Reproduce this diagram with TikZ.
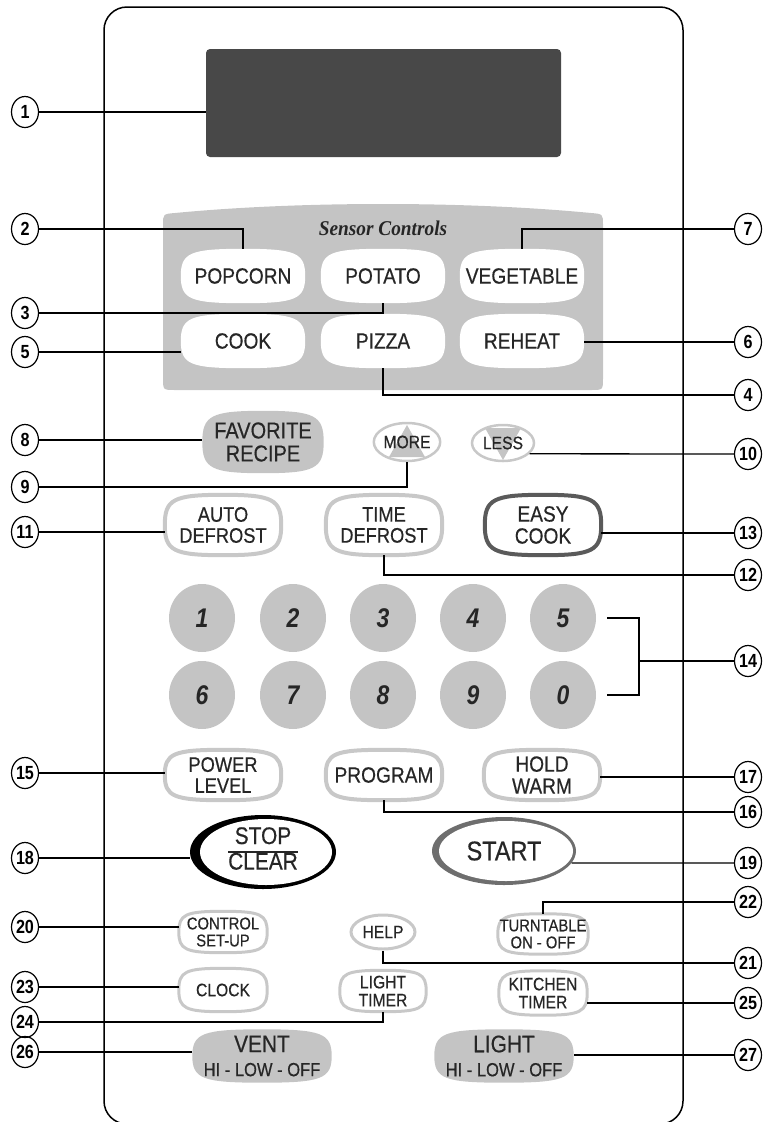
\documentclass[tikz,border=0pt]{standalone}
\usepackage{fontspec}
\newfontfamily\keyfont{Liberation Sans}[FakeStretch=0.87, FakeBold=0.5]
\newfontfamily\digitfont{Liberation Sans}[FakeStretch=0.85]
\newfontfamily\titlefont{Liberation Serif}[FakeStretch=0.92]
\usepackage{xcolor}
\definecolor{panelgray}{RGB}{196, 196, 196}
\definecolor{ringgray}{RGB}{200, 200, 200}
\definecolor{displaygray}{RGB}{72, 72, 72}
\definecolor{darkring}{RGB}{90, 90, 90}
\definecolor{startring}{RGB}{110, 110, 110}
\definecolor{keytext}{RGB}{38, 38, 38}
\usepackage{tikz}
\usetikzlibrary{calc, shapes.geometric}
\pgfdeclarelayer{back}
\pgfdeclarelayer{mid}
\pgfsetlayers{back,mid,main}

% cushion outline round a key node
\newcommand{\pillow}[2][]{%
  \path[#1] (#2.west)
    .. controls ($(#2.west)!0.85!(#2.north west)$) and ($(#2.north)!0.85!(#2.north west)$) .. (#2.north)
    .. controls ($(#2.north)!0.85!(#2.north east)$) and ($(#2.east)!0.85!(#2.north east)$) .. (#2.east)
    .. controls ($(#2.east)!0.85!(#2.south east)$) and ($(#2.south)!0.85!(#2.south east)$) .. (#2.south)
    .. controls ($(#2.south)!0.85!(#2.south west)$) and ($(#2.west)!0.85!(#2.south west)$) .. (#2.west) -- cycle;}

\begin{document}
\begin{tikzpicture}[x=1pt, y=-1pt,
    lead/.style={line width=1.3pt},
    callout/.style={draw, ellipse, line width=1.2pt, minimum width=27, minimum height=31,
      inner sep=0pt, font=\digitfont\bfseries\fontsize{19}{19}\selectfont},
    key/.style={text=keytext, align=center, inner sep=0pt, font=\keyfont\fontsize{#1}{#1}\selectfont},
    box/.style 2 args={minimum width=#1, minimum height=#2},
    oval/.style 2 args={ellipse, minimum width=#1, minimum height=#2},
    digit/.style={ellipse, fill=panelgray, minimum width=66, minimum height=68, inner sep=0pt,
      text=keytext, font=\digitfont\bfseries\itshape\fontsize{27}{27}\selectfont}]
    \useasboundingbox (0,0) rectangle (765,1122);

    \node[fill=displaygray, rounded corners=4pt, box={355}{108}] (lcd) at (383.5,103) {};
    \node[text=keytext, font=\titlefont\bfseries\itshape\fontsize{21}{21}\selectfont] (sensortitle) at (383,228) {Sensor Controls};

    \node[key=22, box={124}{54}] (popcorn) at (243,276) {POPCORN};
    \node[key=22, box={124}{54}] (potato) at (383,276) {POTATO};
    \node[key=22, box={124}{54}] (vegetable) at (522,276) {VEGETABLE};
    \node[key=22, box={124}{54}] (cook) at (243,341) {COOK};
    \node[key=22, box={124}{54}] (pizza) at (383,341) {PIZZA};
    \node[key=22, box={124}{54}] (reheat) at (522,341) {REHEAT};

    \node[key=23, box={121}{62}] (favorite) at (263,442) {FAVORITE\\RECIPE};
    \node[key=18, oval={64}{38}, draw=ringgray, line width=2.5pt] (more) at (407,442) {MORE};
    \node[key=18, oval={62}{36}, draw=ringgray, line width=2.5pt] (less) at (503,443) {LESS};

    \node[key=21, box={116}{60}] (autodef) at (223,525) {AUTO\\DEFROST};
    \node[key=21, box={116}{60}] (timedef) at (384,525) {TIME\\DEFROST};
    \node[key=22, box={116}{60}] (easycook) at (543,525) {EASY\\COOK};

    \foreach \d/\x in {1/202, 2/293, 3/383, 4/473, 5/563}
        \node[digit] (k\d) at (\x,618) {\d};
    \foreach \d/\x in {6/202, 7/293, 8/383, 9/473, 0/563}
        \node[digit] (k\d) at (\x,695) {\d};

    \node[key=21, box={116}{50}] (power) at (223,775) {POWER\\LEVEL};
    \node[key=22, box={116}{50}] (program) at (384,775) {PROGRAM};
    \node[key=22, box={116}{50}] (holdwarm) at (542,775) {HOLD\\WARM};

    \node[key=24, oval={146}{74}] (stop) at (263,852)
        {\setlength\arrayrulewidth{1.6pt}\begin{tabular}{@{}c@{}}STOP\\\hline CLEAR\end{tabular}};
    \node[key=27, oval={144}{68}] (start) at (504,851) {START};

    \node[key=17, box={88}{41}] (control) at (223,932) {CONTROL\\SET-UP};
    \node[key=18, oval={64}{34}, draw=ringgray, line width=3pt] (help) at (383,932) {HELP};
    \node[key=17, box={90}{40}] (turntable) at (543,934) {TURNTABLE\\ON - OFF};
    \node[key=18, box={88}{43}] (clock) at (223,990) {CLOCK};
    \node[key=18, box={86}{41}] (lighttimer) at (383,991) {LIGHT\\TIMER};
    \node[key=18, box={88}{44}] (kitchen) at (543,993) {KITCHEN\\TIMER};
    \node[key=24, box={139}{53}] (vent) at (262,1056) {VENT\\{\fontsize{19}{19}\selectfont HI - LOW - OFF}};
    \node[key=24, box={139}{53}] (light) at (504,1056) {LIGHT\\{\fontsize{19}{19}\selectfont HI - LOW - OFF}};

    % callout numbers
    \foreach \n/\y in {1/112, 2/229, 3/313, 5/352, 8/440, 9/487, 11/532, 15/773,
                       18/858, 20/927, 23/987, 24/1022, 26/1052}
        \node[callout] (c\n) at (25,\y) {\n};
    \foreach \n/\y in {7/229, 6/342, 4/395, 10/454, 13/533, 12/575, 14/661, 17/777,
                       16/812, 19/863, 22/902, 21/963, 25/1003, 27/1055}
        \node[callout] (c\n) at (748,\y) {\n};
    \coordinate (brk) at (639,661);

    \begin{pgfonlayer}{back}
        \draw[line width=1.5pt, rounded corners=23pt] (104,7) rectangle (683,1124);
        \fill[panelgray] (163,378) -- (163,225) .. controls (163,214) .. (175,213)
            .. controls (300,201) and (466,201) .. (591,213) .. controls (603,214) .. (603,225)
            -- (603,378) .. controls (603,390) .. (591,390) -- (175,390)
            .. controls (163,390) .. (163,378) -- cycle;
    \end{pgfonlayer}

    \begin{pgfonlayer}{mid}
        \foreach \b in {popcorn, potato, vegetable, cook, pizza, reheat}
            \pillow[fill=white]{\b};
        \pillow[fill=panelgray]{favorite};
        \pillow[fill=panelgray]{vent};
        \pillow[fill=panelgray]{light};
        \foreach \b in {autodef, timedef, power, program, holdwarm}
            \pillow[draw=ringgray, line width=4pt]{\b};
        \pillow[draw=darkring, line width=4pt]{easycook};
        \foreach \b in {control, turntable, clock, lighttimer, kitchen}
            \pillow[draw=ringgray, line width=3pt]{\b};
        \fill[panelgray] ($(more)+(0,-17)$) -- ($(more)+(-18,15)$) -- ($(more)+(18,15)$) -- cycle;
        \fill[panelgray] ($(less)+(0,17)$) -- ($(less)+(-18,-15)$) -- ($(less)+(18,-15)$) -- cycle;
        \fill[black] (stop) ellipse (73 and 37);
        \fill[white] ($(stop)+(3,0)$) ellipse (66 and 33);
        \fill[startring] (start) ellipse (72 and 34);
        \fill[white] ($(start)+(2,0)$) ellipse (67 and 30);
    \end{pgfonlayer}

    \draw[lead] (c1.east) -- (c1.east -| lcd.west);
    \draw[lead] (c2.east) -| (popcorn.north);
    \draw[lead] (c3.east) -| (potato.south);
    \draw[lead] (c5.east) -- (c5.east -| cook.west);
    \draw[lead] (c7.west) -| (vegetable.north);
    \draw[lead] (c6.west) -- (c6.west -| reheat.east);
    \draw[lead] (c4.west) -| (pizza.south);
    \draw[lead] (c8.east) -- (c8.east -| favorite.west);
    \draw[lead] (c9.east) -| (more.south);
    \draw[lead] (c10.west) -- (less.-22);
    \draw[lead] (c11.east) -- (c11.east -| autodef.west);
    \draw[lead] (c13.west) -- (c13.west -| easycook.east);
    \draw[lead] (c12.west) -| (timedef.south);
    \draw[lead] ([xshift=11pt]k5.east) -| (brk) |- ([xshift=11pt]k0.east);
    \draw[lead] (c14.west) -- (brk);
    \draw[lead] (c15.east) -- (c15.east -| power.west);
    \draw[lead] (c17.west) -- (c17.west -| holdwarm.east);
    \draw[lead] (c16.west) -| (program.south);
    \draw[lead] (c18.east) -- (c18.east -| stop.west);
    \draw[lead] (c19.west) -- (start.-10);
    \draw[lead] (c22.west) -| (turntable.north);
    \draw[lead] (c20.east) -- (c20.east -| control.west);
    \draw[lead] (c21.west) -| (help.south);
    \draw[lead] (c23.east) -- (c23.east -| clock.west);
    \draw[lead] (c25.west) -- (c25.west -| kitchen.east);
    \draw[lead] (c24.east) -| (lighttimer.south);
    \draw[lead] (c26.east) -- (c26.east -| vent.west);
    \draw[lead] (c27.west) -- (c27.west -| light.east);
\end{tikzpicture}
\end{document}
